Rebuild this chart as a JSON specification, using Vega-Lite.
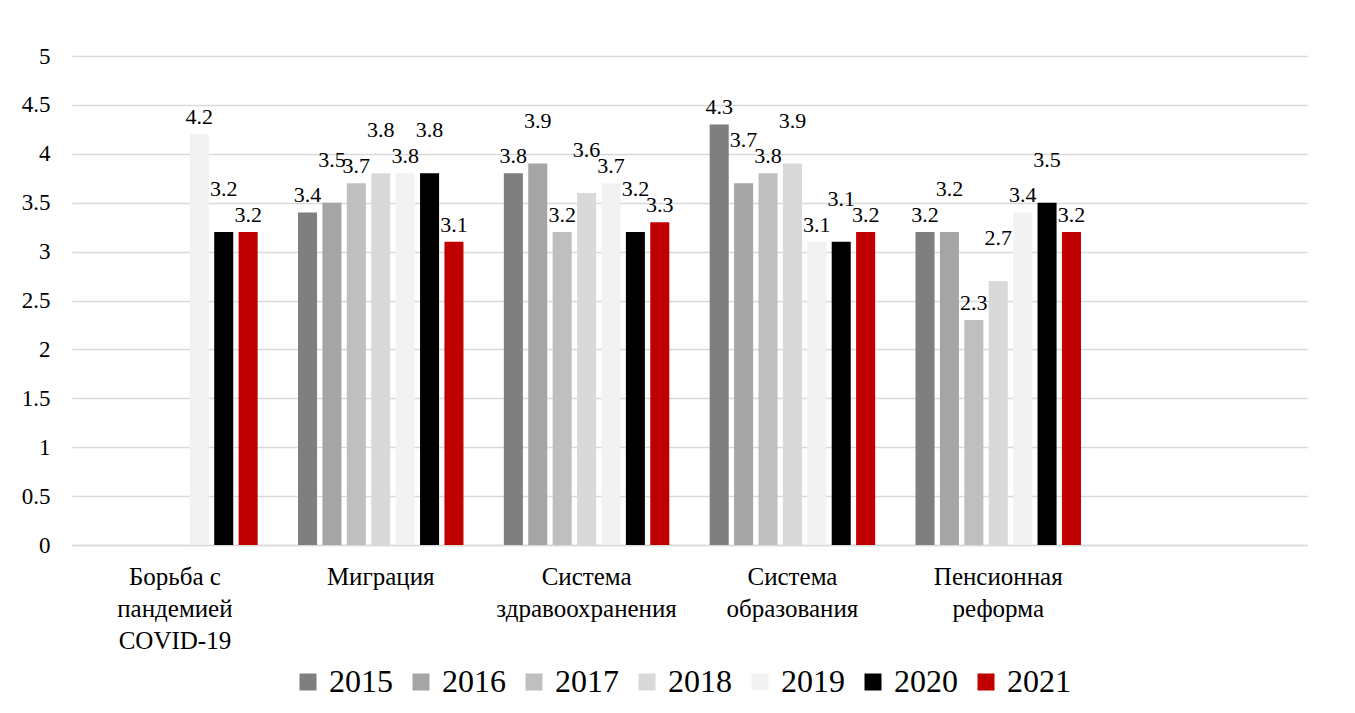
{
  "$schema": "https://vega.github.io/schema/vega-lite/v6.json",
  "width": 1235,
  "height": 489,
  "autosize": {"type": "none"},
  "padding": {"left": 72, "top": 56, "right": 48, "bottom": 168},
  "background": "white",
  "config": {"view": {"stroke": null}, "font": "Liberation Serif"},
  "data": {
    "values": [
      {"category": "Борьба с пандемией COVID-19", "year": "2019", "value": 4.2},
      {"category": "Борьба с пандемией COVID-19", "year": "2020", "value": 3.2},
      {"category": "Борьба с пандемией COVID-19", "year": "2021", "value": 3.2},
      {"category": "Миграция", "year": "2015", "value": 3.4},
      {"category": "Миграция", "year": "2016", "value": 3.5},
      {"category": "Миграция", "year": "2017", "value": 3.7},
      {"category": "Миграция", "year": "2018", "value": 3.8},
      {"category": "Миграция", "year": "2019", "value": 3.8},
      {"category": "Миграция", "year": "2020", "value": 3.8},
      {"category": "Миграция", "year": "2021", "value": 3.1},
      {"category": "Система здравоохранения", "year": "2015", "value": 3.8},
      {"category": "Система здравоохранения", "year": "2016", "value": 3.9},
      {"category": "Система здравоохранения", "year": "2017", "value": 3.2},
      {"category": "Система здравоохранения", "year": "2018", "value": 3.6},
      {"category": "Система здравоохранения", "year": "2019", "value": 3.7},
      {"category": "Система здравоохранения", "year": "2020", "value": 3.2},
      {"category": "Система здравоохранения", "year": "2021", "value": 3.3},
      {"category": "Система образования", "year": "2015", "value": 4.3},
      {"category": "Система образования", "year": "2016", "value": 3.7},
      {"category": "Система образования", "year": "2017", "value": 3.8},
      {"category": "Система образования", "year": "2018", "value": 3.9},
      {"category": "Система образования", "year": "2019", "value": 3.1},
      {"category": "Система образования", "year": "2020", "value": 3.1},
      {"category": "Система образования", "year": "2021", "value": 3.2},
      {"category": "Пенсионная реформа", "year": "2015", "value": 3.2},
      {"category": "Пенсионная реформа", "year": "2016", "value": 3.2},
      {"category": "Пенсионная реформа", "year": "2017", "value": 2.3},
      {"category": "Пенсионная реформа", "year": "2018", "value": 2.7},
      {"category": "Пенсионная реформа", "year": "2019", "value": 3.4},
      {"category": "Пенсионная реформа", "year": "2020", "value": 3.5},
      {"category": "Пенсионная реформа", "year": "2021", "value": 3.2}
    ]
  },
  "encoding": {
    "x": {
      "field": "category",
      "type": "nominal",
      "sort": null,
      "scale": {
        "domain": ["Борьба с пандемией COVID-19", "Миграция", "Система здравоохранения", "Система образования", "Пенсионная реформа", ""],
        "paddingInner": 0.17,
        "paddingOuter": 0.085
      },
      "axis": {
        "title": null,
        "labelAngle": 0,
        "labelFont": "Liberation Serif",
        "labelFontSize": 25,
        "labelColor": "#000000",
        "labelLineHeight": 32,
        "labelPadding": 19,
        "labelLimit": 400,
        "ticks": false,
        "domain": true,
        "domainColor": "#d9d9d9",
        "domainWidth": 1.5,
        "labelExpr": "datum.label == 'Борьба с пандемией COVID-19' ? ['Борьба с', 'пандемией', 'COVID-19'] : split(datum.label, ' ')"
      }
    },
    "xOffset": {
      "field": "year",
      "type": "nominal",
      "scale": {
        "domain": ["2015", "2016", "2017", "2018", "2019", "2020", "2021"],
        "paddingInner": 0.22,
        "paddingOuter": 0.11
      }
    },
    "y": {
      "field": "value",
      "type": "quantitative",
      "scale": {"domain": [0, 5], "nice": false},
      "axis": {
        "title": null,
        "values": [0, 0.5, 1, 1.5, 2, 2.5, 3, 3.5, 4, 4.5, 5],
        "format": "~g",
        "labelFont": "Liberation Serif",
        "labelFontSize": 23,
        "labelColor": "#000000",
        "labelPadding": 22,
        "ticks": false,
        "domain": false,
        "grid": true,
        "gridColor": "#d9d9d9",
        "gridWidth": 1.5
      }
    }
  },
  "layer": [
    {
      "mark": {"type": "bar"},
      "encoding": {
        "color": {
          "field": "year",
          "type": "nominal",
          "scale": {
            "domain": ["2015", "2016", "2017", "2018", "2019", "2020", "2021"],
            "range": ["#7f7f7f", "#a5a5a5", "#bfbfbf", "#d9d9d9", "#f2f2f2", "#000000", "#c00000"]
          },
          "legend": {
            "title": null,
            "orient": "none",
            "legendX": 220,
            "legendY": 610,
            "direction": "horizontal",
            "columns": 7,
            "symbolType": "square",
            "symbolSize": 289,
            "symbolStrokeWidth": 0,
            "labelFont": "Liberation Serif",
            "labelFontSize": 32,
            "labelColor": "#000000",
            "labelOffset": 5,
            "columnPadding": 12
          }
        }
      }
    },
    {
      "transform": [{"filter": "indexof(['2015','2017','2019','2021'], datum.year) >= 0"}],
      "mark": {"type": "text", "baseline": "bottom", "dy": -5, "fontSize": 22, "font": "Liberation Serif", "color": "#000000"},
      "encoding": {
        "text": {"field": "value", "type": "quantitative", "format": ".1f"}
      }
    },
    {
      "transform": [{"filter": "indexof(['2016','2018','2020'], datum.year) >= 0"}],
      "mark": {"type": "text", "baseline": "bottom", "dy": -31, "fontSize": 22, "font": "Liberation Serif", "color": "#000000"},
      "encoding": {
        "text": {"field": "value", "type": "quantitative", "format": ".1f"}
      }
    }
  ]
}
